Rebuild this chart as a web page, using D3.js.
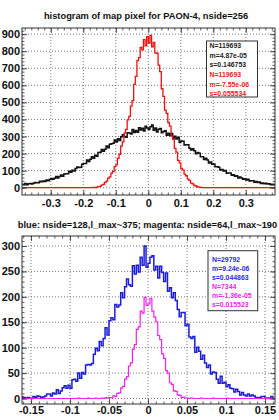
<!DOCTYPE html>
<html>
<head>
<meta charset="utf-8">
<script src="https://cdn.jsdelivr.net/npm/d3@7.9.0/dist/d3.min.js"></script>
<style>
  body { margin: 0; background: #fff; }
  svg { display: block; font-family: "Liberation Sans", Arial, Helvetica, sans-serif; }
</style>
</head>
<body>
<div id="chart"></div>
<script>
// ---- top panel data (bins of 0.005 from -0.39) ----
const topBinStart = -0.39;
const topBinWidth = 0.005;

const blackCounts = [
  20,17,24,18,23,25,21,26,31,29, 29,38,35,39,37,45,41,48,54,50,
  56,66,57,65,74,67,80,82,82,97, 91,102,98,113,121,119,120,137,142,142,
  162,153,167,181,173,190,184,207,208,224, 214,226,244,234,254,258,260,280,268,287,
  276,298,311,300,296,322,321,314,341,324, 335,325,351,338,349,333,360,350,
  341,357,368,336,350,327,342,347,322,329, 334,308,319,306,317,291,301,286,295,265,
  273,272,250,252,252,231,221,229,216,199, 206,202,181,182,166,172,162,145,151,138,
  139,123,123,120,103,107,98,101,85,86, 86,73,76,67,70,57,63,57,49,53,
  45,49,39,40,40,32,36,31,33,25, 28,23,26,21,23,17,20,17
];

const redCounts = [
  0,0,0,0,0,0,0,0,0,0, 0,0,0,0,0,0,0,0,0,0, 0,0,0,0,0,0,0,0,0,0, 0,0,0,0,0,0,0,0,
  0,0,0,1,0,1,2,1,3,6, 8,15,19,31,38,56,64,86,96,123,
  134,172,196,244,268,320,342,398,418,478, 510,605,652,745,762,822,808,868,832,885,
  848,893,826,851,790,788,718,680,580,535, 455,436,382,361,302,283,230,209,160,145,
  113,104,79,70,50,43,27,22,13,10, 4,3,2,1,0,1,0,0,0,0,
  0,0,0,0,0,0,0,0,0,0, 0,0,0,0,0,0,0,0,0,0, 0,0,0,0,0,0,0,0,0,0, 0,0,0,0,0,0,0,0
];

// ---- bottom panel data (bins of 0.0025 from -0.1625) ----
const bottomBinStart = -0.1625;
const bottomBinWidth = 0.0025;

const blueCounts = [
  3,2,0,2,1,0,4,2,5,4, 2,3,5,9,9,5,11,9,17,10, 15,21,25,20,26,20,37,38,34,50,
  40,51,48,66,67,66,69,87,99,94, 112,104,118,139,125,153,159,155,185,180,
  184,208,198,220,235,224,221,261,245,262, 249,278,262,300,258,
  266,278,281,253,260,237,260,248,230,247, 211,218,198,208,193,175,161,169,169,143,
  146,121,118,122,91,101,93,77,85,70, 61,66,48,52,51,38,30,44,30,32,
  23,27,20,19,13,18,14,7,12,7, 5,9,5,7,5,2,1,2,4,4, 0,1,0,4,0
];

const magentaCounts = [
  0,0,0,0,0,0,0,0,0,0, 0,0,0,0,0,0,0,0,0,0, 0,0,0,0,0,0,0,0,0,
  1,0,0,0,0,1,0,0,0,1,0,0,1,0,2,
  1,2,1,5,4,10,11,21,24,38, 43,64,70,97,106,136,141,172,168,199,183,
  186,197,172,160,151,124,116,88,79,55, 50,31,28,15,14,7,6,2,3,1,1,
  0,1,0,0,0,0,1,0,0,0,0,0,1,0,0,0,0,0,0,1,
  0,0,0,0,0,0,0,0,0,0, 0,0,0,0,0,0,0,0,0,0, 0,0,0,0
];

// ---- ticks ----
const topXTicks = [-0.3, -0.2, -0.1, 0, 0.1, 0.2, 0.3];
const topXLabels = ['-0.3', '-0.2', '-0.1', '0', '0.1', '0.2', '0.3'];
const topYTicks = [0, 100, 200, 300, 400, 500, 600, 700, 800, 900];
const bottomXTicks = [-0.15, -0.1, -0.05, 0, 0.05, 0.1, 0.15];
const bottomXLabels = ['-0.15', '-0.1', '-0.05', '0', '0.05', '0.1', '0.15'];
const bottomYTicks = [0, 50, 100, 150, 200, 250, 300];

// ---- titles / stats boxes ----
const topTitle = 'histogram of map pixel for PAON-4, nside=256';
const bottomTitle = 'blue: nside=128,l_max~375; magenta: nside=64,l_max~190';
const topStats = ['N=119693', 'm=4.87e-05', 's=0.146753', 'N=119693', 'm=-7.55e-06', 's=0.055534'];
const bottomStats = ['N=29792', 'm=9.24e-06', 's=0.044863', 'N=7344', 'm=-1.36e-05', 's=0.015523'];

const svg = d3.select('#chart').append('svg')
  .attr('width', 279)
  .attr('height', 420);

function histLine(counts, start, width) {
  const pts = counts.map((v, i) => [start + i * width, v]);
  pts.push([start + counts.length * width, counts[counts.length - 1]]);
  return pts;
}

function drawPanel(p) {
  const x = d3.scaleLinear().domain(p.xDomain).range([p.left, p.right]);
  const y = d3.scaleLinear().domain(p.yDomain).range([p.bottom, p.top]);
  const g = svg.append('g');

  g.append('clipPath').attr('id', p.id)
    .append('rect')
    .attr('x', p.left).attr('y', p.top)
    .attr('width', p.right - p.left).attr('height', p.bottom - p.top);

  // dotted grid
  const grid = g.append('g')
    .attr('stroke', '#555')
    .attr('stroke-width', 0.8)
    .attr('stroke-dasharray', '1,2');
  grid.selectAll('line.vx')
    .data(p.xTicks)
    .join('line')
      .attr('x1', d => x(d)).attr('x2', d => x(d))
      .attr('y1', p.top).attr('y2', p.bottom);
  grid.selectAll('line.hy')
    .data(p.yTicks)
    .join('line')
      .attr('x1', p.left).attr('x2', p.right)
      .attr('y1', d => y(d)).attr('y2', d => y(d));

  // histograms
  const line = d3.line()
    .x(d => x(d[0]))
    .y(d => y(d[1]))
    .curve(d3.curveStepAfter);
  const hg = g.append('g').attr('clip-path', `url(#${p.id})`);
  p.series.forEach(s => {
    hg.append('path')
      .datum(histLine(s.counts, p.binStart, p.binWidth))
      .attr('fill', 'none')
      .attr('stroke', s.color)
      .attr('stroke-width', s.width)
      .attr('d', line);
  });

  // axes with inward ticks
  const tickFont = sel => sel.selectAll('text')
    .attr('fill', '#111')
    .style('font-size', '11px')
    .style('font-weight', 'bold');

  g.append('g')
    .attr('transform', `translate(0,${p.bottom})`)
    .call(d3.axisBottom(x).tickValues(p.xTicks)
      .tickFormat((d, i) => p.xLabels[i])
      .tickSizeInner(-5).tickSizeOuter(0).tickPadding(p.xPad))
    .call(tickFont);
  g.append('g')
    .attr('transform', `translate(0,${p.top})`)
    .call(d3.axisTop(x).tickValues(p.xTicks).tickFormat('')
      .tickSizeInner(-5).tickSizeOuter(0));
  g.append('g')
    .attr('transform', `translate(${p.left},0)`)
    .call(d3.axisLeft(y).tickValues(p.yTicks).tickFormat(d3.format('d'))
      .tickSizeInner(-5).tickSizeOuter(0).tickPadding(2))
    .call(tickFont);
  g.append('g')
    .attr('transform', `translate(${p.right},0)`)
    .call(d3.axisRight(y).tickValues(p.yTicks).tickFormat('')
      .tickSizeInner(-5).tickSizeOuter(0));

  // minor ticks
  const minorX = d3.range(p.xDomain[0], p.xDomain[1], p.xMinor)
    .map(v => Math.round(v / p.xMinor) * p.xMinor);
  const minorY = d3.range(0, p.yDomain[1], p.yMinor);
  g.append('g').attr('transform', `translate(0,${p.bottom})`)
    .call(d3.axisBottom(x).tickValues(minorX).tickFormat('').tickSizeInner(-2.5).tickSizeOuter(0));
  g.append('g').attr('transform', `translate(0,${p.top})`)
    .call(d3.axisTop(x).tickValues(minorX).tickFormat('').tickSizeInner(-2.5).tickSizeOuter(0));
  g.append('g').attr('transform', `translate(${p.left},0)`)
    .call(d3.axisLeft(y).tickValues(minorY).tickFormat('').tickSizeInner(-2.5).tickSizeOuter(0));
  g.append('g').attr('transform', `translate(${p.right},0)`)
    .call(d3.axisRight(y).tickValues(minorY).tickFormat('').tickSizeInner(-2.5).tickSizeOuter(0));

  g.selectAll('.domain').remove();
  g.selectAll('.tick line').attr('stroke', '#333').attr('stroke-width', 0.8);

  // frame
  g.append('rect')
    .attr('x', p.left).attr('y', p.top)
    .attr('width', p.right - p.left).attr('height', p.bottom - p.top)
    .attr('fill', 'none')
    .attr('stroke', '#333')
    .attr('stroke-width', 1);

  // title
  svg.append('text')
    .attr('x', p.titleX).attr('y', p.titleY)
    .attr('text-anchor', 'middle')
    .style('font-size', '9.3px')
    .style('font-weight', 'bold')
    .attr('fill', '#111')
    .text(p.title);

  // stats box
  const b = p.box;
  svg.append('rect')
    .attr('x', b.x).attr('y', b.y).attr('width', b.w).attr('height', b.h)
    .attr('fill', '#fff')
    .attr('stroke', '#333')
    .attr('stroke-width', 1);
  svg.append('g').selectAll('text')
    .data(p.stats)
    .join('text')
      .attr('x', b.x + b.pad)
      .attr('y', (d, i) => b.y + b.first + i * b.step)
      .attr('fill', (d, i) => i < 3 ? b.colors[0] : b.colors[1])
      .style('font-size', '6.9px')
      .style('font-weight', 'bold')
      .text(d => d);
}

drawPanel({
  id: 'clipTop',
  left: 22, right: 275, top: 28, bottom: 195,
  xDomain: [-0.3886, 0.3898], yDomain: [-42.8, 936],
  xTicks: topXTicks, xLabels: topXLabels, yTicks: topYTicks,
  xMinor: 0.02, yMinor: 20, xPad: 4,
  binStart: topBinStart, binWidth: topBinWidth,
  series: [
    { counts: blackCounts, color: '#111', width: 1.5 },
    { counts: redCounts, color: '#f01010', width: 1.3 }
  ],
  title: topTitle, titleX: 146, titleY: 18.5,
  stats: topStats,
  box: { x: 206.5, y: 41, w: 51, h: 56, pad: 3, first: 6.8, step: 9.7, colors: ['#222', '#f01818'] }
});

drawPanel({
  id: 'clipBottom',
  left: 22, right: 275, top: 236, bottom: 404,
  xDomain: [-0.1615, 0.1628], yDomain: [-10.8, 319.7],
  xTicks: bottomXTicks, xLabels: bottomXLabels, yTicks: bottomYTicks,
  xMinor: 0.01, yMinor: 10, xPad: 2.5,
  binStart: bottomBinStart, binWidth: bottomBinWidth,
  series: [
    { counts: blueCounts, color: '#1c1cd8', width: 1.5 },
    { counts: magentaCounts, color: '#f020f0', width: 1.2 }
  ],
  title: bottomTitle, titleX: 147.5, titleY: 227.5,
  stats: bottomStats,
  box: { x: 208, y: 250.7, w: 49.7, h: 60, pad: 4, first: 11, step: 9, colors: ['#2a2ae0', '#ee22ee'] }
});
</script>
</body>
</html>
